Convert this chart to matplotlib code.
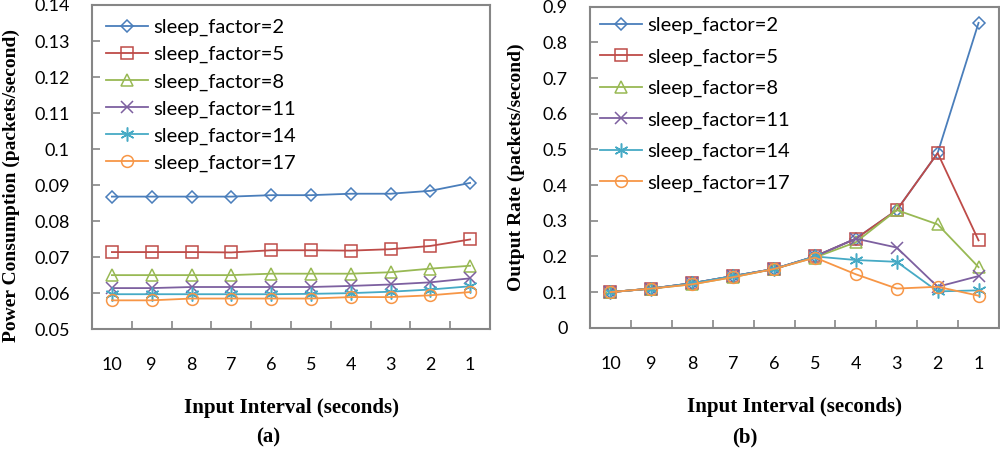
import matplotlib
matplotlib.use("Agg")
import matplotlib.pyplot as plt
from matplotlib.ticker import FormatStrFormatter, FixedLocator

# data
intervals = ["10", "9", "8", "7", "6", "5", "4", "3", "2", "1"]
labels = ["sleep_factor=2", "sleep_factor=5", "sleep_factor=8",
          "sleep_factor=11", "sleep_factor=14", "sleep_factor=17"]

power_sf2 = [0.0868, 0.0868, 0.0868, 0.0868, 0.0872, 0.0872, 0.0876, 0.0876, 0.0884, 0.0906]
power_sf5 = [0.0714, 0.0714, 0.0714, 0.0713, 0.0719, 0.0719, 0.0718, 0.0722, 0.0731, 0.0749]
power_sf8 = [0.0650, 0.0650, 0.0650, 0.0650, 0.0654, 0.0654, 0.0654, 0.0658, 0.0668, 0.0676]
power_sf11 = [0.0614, 0.0614, 0.0617, 0.0617, 0.0617, 0.0617, 0.0620, 0.0624, 0.0630, 0.0641]
power_sf14 = [0.0597, 0.0597, 0.0597, 0.0597, 0.0597, 0.0598, 0.0600, 0.0604, 0.0610, 0.0619]
power_sf17 = [0.0580, 0.0580, 0.0585, 0.0585, 0.0585, 0.0585, 0.0589, 0.0589, 0.0594, 0.0603]

rate_sf2 = [0.100, 0.110, 0.125, 0.145, 0.165, 0.200, 0.250, 0.330, 0.490, 0.855]
rate_sf5 = [0.100, 0.110, 0.125, 0.145, 0.165, 0.200, 0.250, 0.330, 0.490, 0.245]
rate_sf8 = [0.100, 0.110, 0.122, 0.142, 0.165, 0.197, 0.240, 0.330, 0.290, 0.170]
rate_sf11 = [0.100, 0.110, 0.125, 0.145, 0.165, 0.200, 0.250, 0.225, 0.115, 0.145]
rate_sf14 = [0.100, 0.110, 0.125, 0.145, 0.165, 0.200, 0.190, 0.185, 0.102, 0.105]
rate_sf17 = [0.100, 0.110, 0.122, 0.142, 0.165, 0.197, 0.150, 0.110, 0.115, 0.090]

colors = ["#4A7EBB", "#BE4B48", "#98B954", "#7D60A0", "#46AAC5", "#F79646"]
markers = ["D", "s", "^", "x", (6, 2, 0), "o"]
msizes = [6, 8.5, 8, 9, 10, 8.5]

serif = ["Liberation Serif", "DejaVu Serif"]
sans = ["Lato", "DejaVu Sans"]

fig = plt.figure(figsize=(10, 4.54), dpi=100)
ax1 = fig.add_axes([0.092, 0.275, 0.398, 0.714])
ax2 = fig.add_axes([0.590, 0.278, 0.409, 0.707])


def style(ax, series, ylim, yticks, ylabel, lspace, bpad):
    x = list(range(len(intervals)))
    for s, c, m, ms, lab in zip(series, colors, markers, msizes, labels):
        ax.plot(x, s, color=c, marker=m, markersize=ms, linewidth=1.3,
                markerfacecolor="none", markeredgewidth=1.1, label=lab)
    ax.set_xlim(-0.5, 9.5)
    ax.set_ylim(*ylim)
    ax.set_xticks(x)
    ax.set_xticklabels(intervals, fontfamily=sans, fontsize=13)
    ax.xaxis.set_minor_locator(FixedLocator([i + 0.5 for i in range(9)]))
    ax.tick_params(axis="x", which="major", length=0, pad=20)
    ax.tick_params(axis="x", which="minor", direction="in", length=6,
                   width=1.2, color="#868686")
    ax.set_yticks(yticks)
    ax.yaxis.set_major_formatter(FormatStrFormatter("%g"))
    ax.tick_params(axis="y", direction="in", length=6, width=1.2,
                   color="#868686", pad=16, labelsize=13)
    for t in ax.get_yticklabels():
        t.set_fontfamily(sans)
    for sp in ax.spines.values():
        sp.set_color("#868686")
        sp.set_linewidth(1.5)
    ax.set_xlabel("Input Interval (seconds)", fontfamily=serif,
                  fontweight="bold", fontsize=15, labelpad=18)
    ax.set_ylabel(ylabel, fontfamily=serif, fontweight="bold", fontsize=14)
    ax.legend(loc="upper left", frameon=False, prop={"family": sans, "size": 14.5},
              handlelength=2.1, handletextpad=0.25, labelspacing=lspace,
              borderaxespad=bpad, bbox_to_anchor=(0.0, 1.0))


style(ax1, [power_sf2, power_sf5, power_sf8, power_sf11, power_sf14, power_sf17],
      (0.05, 0.14), [0.05 + 0.01 * i for i in range(10)],
      "Power Consumption (packets/second)", 0.48, 0.3)
style(ax2, [rate_sf2, rate_sf5, rate_sf8, rate_sf11, rate_sf14, rate_sf17],
      (0, 0.9), [0.1 * i for i in range(10)],
      "Output Rate (packets/second)", 0.7, 0.1)

ax1.yaxis.set_label_coords(-0.18, 0.444)
ax2.yaxis.set_label_coords(-0.159, 0.5)

fig.text(0.268, 0.037, "(a)", fontfamily=serif, fontweight="bold", fontsize=15,
         ha="center", va="center")
fig.text(0.745, 0.037, "(b)", fontfamily=serif, fontweight="bold", fontsize=15,
         ha="center", va="center")

fig.savefig("out.png", dpi=100)
